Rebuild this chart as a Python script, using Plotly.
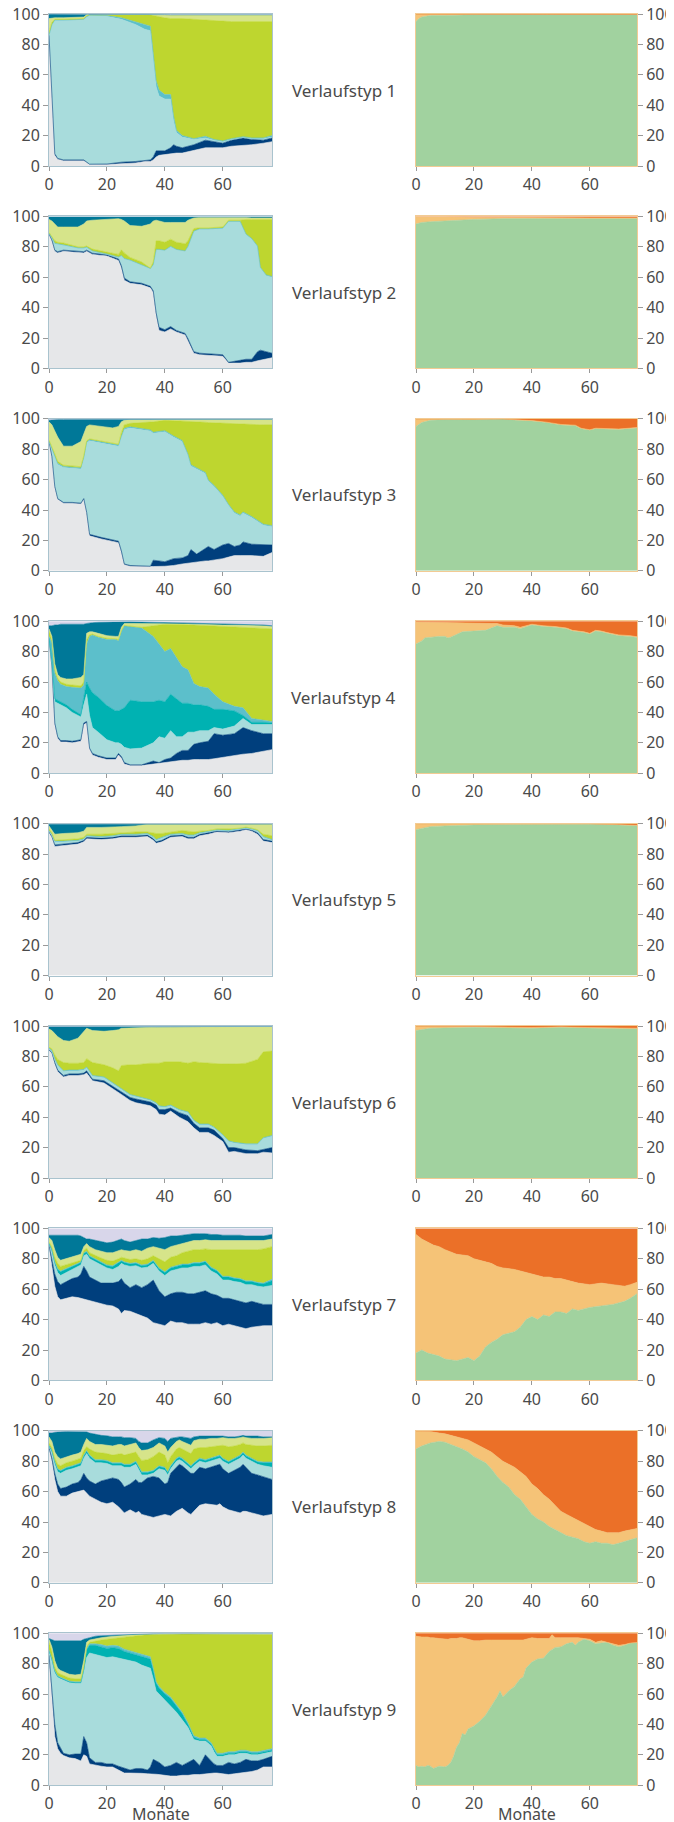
import plotly.graph_objects as go

# ---------------- categories / colours ----------------
KATEGORIEN = ["A", "B", "C", "D", "E", "F", "G", "H", "I"]
FARBEN_LINKS = ["#e6e7e9", "#003f7d", "#a8dcdc", "#00b2b2", "#5cbfcb",
                "#bed62f", "#d6e48a", "#007898", "#d8d6ea"]
KATEGORIEN_RECHTS = ["gruen", "hellorange", "orange"]
FARBEN_RECHTS = ["#a1d29f", "#f5c377", "#eb7028"]
TICKS_X = [0, 20, 40, 60]
TICKS_Y = [0, 20, 40, 60, 80, 100]
TITEL = ["Verlaufstyp %d" % i for i in range(1, 10)]
ACHSENTITEL = "Monate"

# ---------------- Verlaufstyp 1 (left) ----------------
T1_MONATE = [0,1,2,3,5,12,13,14,20,25,30,33,35,36,37,38,40,42,43,44,46,50,54,57,60,63,67,70,74,77]
T1_A = [85,50,7,4.5,3.5,3.5,2,1,1,1.5, 2,3,3,4,6,7,7.5,8,8,8.5, 8.5,10,12,12,12,13,13.5,14,15,16]
T1_B = [1,1,1,.5,.5,.5,.5,.2,.3,1, 1,.5,1,2,4,3,2.5,4,6,4.5, 3.5,4,5,4,3,4,5,3.5,2,2.5]
T1_C = [0,42,88,91,92,92.5,95.5,97.8,97.2,94, 90,86.5,85,64,42,36,34,32,16,9, 7,3.5,1.5,1,1,.5,.3,.5,1,.5]
T1_D = None
T1_E = [0,0,0,0,0,0,.3,.2,.5,1, 2,3,3,4,4,4,3,3,3,1.5, 1,.5,1,.5,.5,.5,.5,.5,.5,1]
T1_F = [2,1.5,.5,.5,.5,.5,.7,.4,.6,2.1, 4.6,6.6,7.5,25,42.5,48,50.5,50,64,73.5, 77,78.5,76.5,78,78.5,77,75.7,76.5,76.5,75]
T1_G = [9,3,1,1,1,1,.5,.4,.4,.4, .4,.4,.5,1,1.5,1.8,2.1,2.5,2.5,2.5, 2.5,3,3.5,4,4.5,4.5,4.5,4.5,4.5,4.5]
T1_H = [3,2.5,2.5,2.5,2.5,2,.5,0,0,0, 0,0,0,0,0,0,0,0,0,0, 0,0,0,0,0,0,0,0,0,0]
T1_I = [0,0,0,0,0,0,0,0,0,0, 0,0,0,0,0,.2,.4,.5,.5,.5, .5,.5,.5,.5,.5,.5,.5,.5,.5,.5]

# ---------------- Verlaufstyp 2 ----------------
T2_MONATE = [0,1,2,3,5,10,12,13,15,20,24,25,26,28,32,35,36,37,38,40,42,44,47,48,50,52,55,60,62,66,68,70,72,73,75,77]
T2_A = [88,84,77,76,77,76,76,77,75,74, 71,66,58,56,55,53,50,35,25,24, 26,24,22,18,10,9,8.5,8,3.5,3.5, 4,4,5,5.5,6,7]
T2_B = [.5,.5,.8,.8,.8,.8,.8,.8,.8,.8, 1,1.5,1.5,1,1,1,1,1.5,2,1.5, 1.5,1,1,1.5,1,1,1,1,.5,2, 2,2,6,6.5,5,3]
T2_C = [.5,1.5,4.2,4.7,3.2,2.2,2.2,1.7,1.2,.2, 1,6.5,12.5,14,12,11.5,17,41.5,51,52, 52.5,53,54,60.5,79,81.5,82,83,92.5,91, 82,79,69,54,50,50]
T2_D = None
T2_E = [0,.2,.3,.3,.3,.3,.3,.3,.3,.3, .3,.3,.3,.3,.3,.3,.3,.3,.3,.3, .3,.3,.3,.3,.3,.3,.3,.3,.3,.3, .5,.5,.5,.5,.5,.5]
T2_F = [.5,.8,1.7,1.2,1.2,.7,.7,.7,1.2,1.2, 1.7,3.7,3.7,1.7,1.7,.2,1.7,5.7,5.7,5.2, 4.7,4.7,4.7,3.7,1.7,.7,.7,.7,.7,.7, 9.5,12.5,17.5,31.5,36.5,37.5]
T2_G = [8.5,10,11,10,10.5,13,15,16.5,19,21.5, 23.5,20,21,21,23.5,29,27,13.5,13,13, 11,13,14,13.5,7,6.8,6.8,6.5,2,2, 1.3,1,1,1,1,1]
T2_H = [1.7,2.7,4.5,6.5,6.5,6.5,4.5,2.5,2,1.5, 1,1.5,2.5,5.5,6,4.5,2.5,2,2.5,3.5, 3.5,3.5,3.5,2,.8,.5,.5,.3,.3,.3, .5,.8,.8,.8,.8,.8]
T2_I = [.3,.3,.5,.5,.5,.5,.5,.5,.5,.5, .5,.5,.5,.5,.5,.5,.5,.5,.5,.5, .5,.5,.5,.5,.2,.2,.2,.2,.2,.2, .2,.2,.2,.2,.2,.2]

# ---------------- Verlaufstyp 3 ----------------
T3_MONATE = [0,1,2,3,5,8,11,12,13,14,18,22,24,25,26,28,35,36,40,43,46,48,49,51,54,55,57,60,62,64,66,67,70,74,77]
T3_A = [85,75,55,47,44.5,44.5,44,47,38,23, 21,19.5,18.5,12,4,3,2.5,2.8,3,3.5, 4.5,5,5.5,6,6.5,6.5,7,8,9,10, 10,10,10,9.5,12]
T3_B = [0,.3,.5,.5,.5,.5,.5,.5,.5,1, 1,1,1,1,.5,.5,.5,4.2,3,4.5, 4,5,8.5,5,8.5,9.5,7,9,9,6, 7,9,7.5,7.5,5]
T3_C = [0,4.7,19.5,22.5,23,22.5,22.5,26.5,45.5,61.5, 62,62,62.5,75,88.5,90.5,89,83.5,85.5,80, 76.5,66,55,56,49,43,41.5,32,25,22, 19,19,17.5,13,12]
T3_D = None
T3_E = [.5,.7,.7,.7,.7,.7,.7,.7,.7,.7, .7,.7,.7,.7,.7,.7,.7,.7,.7,.7, .7,.7,.7,.7,.7,.7,.7,.7,.7,.7, .7,.7,.7,.7,.7]
T3_F = [.5,1.5,1.3,1.3,.8,.8,.8,.8,.8,.6, .6,.8,.6,2.3,2.3,2.3,4.8,6.8,6.8,10.1, 12.8,21.5,28.4,30.3,33,37.8,41.1,47.3,53.1,57.9, 59.8,57.7,60.5,65.3,66.3]
T3_G = [12,14,15,16,12.5,13,16.5,14.5,9.5,9.2, 9.7,10,11.7,7,3,2.3,1.8,1.4,.5,.7, 1,1.3,1.4,1.5,1.8,2,2.2,2.5,2.7,2.9, 3,3.1,3.3,3.5,3.5]
T3_H = [1,3.3,7.5,11.5,17.5,17.5,14.5,9.5,4.5,3.5, 4.5,5.5,4.5,1.5,.5,.3,.3,.3,.2,.2, .2,.2,.2,.2,.2,.2,.2,.2,.2,.2, .2,.2,.2,.2,.2]
T3_I = [1,.7,.5,.5,.5,.5,.5,.5,.5,.5, .5,.5,.5,.5,.5,.4,.4,.3,.3,.3, .3,.3,.3,.3,.3,.3,.3,.3,.3,.3, .3,.3,.3,.3,.3]

# ---------------- Verlaufstyp 4 ----------------
T4_MONATE = [0,1,2,3,4,6,8,11,12,13,14,15,17,20,23,24,25,26,28,32,36,38,40,42,44,46,48,50,52,55,57,60,64,67,70,74,77]
T4_A = [88,70,32,23,20.5,20.5,20,21,32,33, 16,12,10.5,9,9,12,10,6,5,5, 6,6.5,7,7.5,8,8.5,8.5,9,9,9, 9.5,10.5,11.5,12.5,13,14.5,15.5]
T4_B = [0,.5,1,1,1,1,1,1,1,1, .5,1,1,1,1,1,1,1,.5,.5, 2,.5,2,2.5,5,6.5,6.5,10,11,12, 16.5,14.5,14.5,17.5,15,11.5,10.5]
T4_C = [0,1.5,14,22,23.5,21.5,19,15,12,18, 21.5,17,15.5,12,10,7,8,10,10.5,11, 12,17,14,18,11,9,12,8,8,7, 4,4,5,6,4,6,6]
T4_D = [1,2,2,2,2,2,2,1.5,5,8, 18,23,23,22.5,21,21,23,26,32,30.5, 27,24,24,24,25,22,19,18,17,16, 12,13,10,2,1.5,1.5,1]
T4_E = [1,12,17,13,11.5,12,14.5,17.5,8,25, 34,38,39.5,43.5,47,46,51,54,48.5,48.5, 43,37,33,30,27,24,22,14,12,12, 10,5,3,5,2.5,1.5,1]
T4_F = [4,1.5,2,1.5,1.5,1.5,1.5,1.5,2,3, 1,.5,.5,.8,.5,1,1,.2,.3,.5, 7,12.5,18,16,22,27.8,29.7,38.5,40.3,41, 44.8,49.5,52.3,53.2,60,60.5,61]
T4_G = [1,2.5,4,2.5,3,3.5,4,5.5,5,4, 2,1.5,2,1.7,1.5,2,2,1.3,1.7,2.5, 1.5,1,.5,.5,.5,.5,.5,.5,.7,.8, .9,1,1.2,1.3,1.3,1.5,1.5]
T4_H = [2,7,25.5,32.5,35,36,36,35,33,6.5, 6,6,7.3,9,9.5,9.5,3.7,1.2,1.2,1, .8,.7,.5,.5,.5,.5,.5,.5,.5,.5, .5,.5,.5,.5,.5,.5,.5]
T4_I = [3,3,2.5,2.5,2,2,2,2,2,1.5, 1,1,.7,.5,.5,.5,.3,.3,.3,.5, .7,.8,1,1,1,1.2,1.3,1.5,1.5,1.7, 1.8,2,2,2,2.2,2.5,3]

# ---------------- Verlaufstyp 5 ----------------
T5_MONATE = [0,1,2,5,10,12,13,18,22,25,30,34,36,37,39,42,46,48,50,52,55,58,62,66,68,70,72,74,77]
T5_A = [94,91,85,85.5,86.5,88,90,89.5,90,91, 91,91.5,89,87,88,91,91.5,90,90,92, 93,94.5,94,95,96,95,93,88.5,87.5]
T5_B = [.5,.5,1,1,1,1,1,1,1,1, 1,1,1,1,1,1,1,1,1,1, 1,.7,.7,.7,.5,.7,1,1,1]
T5_C = [.5,1,2,1.5,1,.5,.5,.5,.5,.5, .5,.5,1,1,1.5,.5,.5,1,1,.5, .5,.4,.5,.5,.5,.5,1,1.5,.5]
T5_D = None
T5_E = [.5,.5,.5,.5,.5,.5,.5,.5,.5,.5, .5,.5,.5,.5,.5,.5,.5,.5,.5,.5, .5,.4,.4,.4,.3,.4,.5,.5,.5]
T5_F = [1,1,.5,1,1,1,1,1.5,1.5,1, 1.5,1,2.5,4,2.5,1.5,2,2.5,2,1, .5,.5,.9,.4,.4,.4,.5,1.5,2.5]
T5_G = [2,2,4,4,4,4,4.5,4.5,4.5,4, 4,5,5.5,6,6,5.2,4.2,4.7,5.2,4.7, 4.2,3.2,3.2,2.7,2,2.6,3.5,6.5,7.5]
T5_H = [1,3.5,6.5,6,5.5,4.5,2.1,2.2,1.7,1.7, 1.2,.3,.3,.3,.3,.1,.1,.1,.1,.1, .1,.1,.1,.1,.1,.2,.3,.3,.3]
T5_I = [.5,.5,.5,.5,.5,.5,.4,.3,.3,.3, .3,.2,.2,.2,.2,.2,.2,.2,.2,.2, .2,.2,.2,.2,.2,.2,.2,.2,.2]

# ---------------- Verlaufstyp 6 ----------------
T6_MONATE = [0,1,2,3,5,7,10,12,13,15,19,22,24,25,28,30,35,37,38,40,42,45,48,50,52,55,57,60,62,64,68,72,74,77]
T6_A = [84,82,75,70,66.5,67.5,67.5,68,69,64, 62.5,59,56.5,55,51,49.5,47.5,45,42,41.5, 44,40,37,33,30,30,28,24,17,17.5, 16,16,17,16.5]
T6_B = [.5,.5,1,1,1,1,1,1,1.5,1, 1.5,1.5,1.5,2,2,2.5,2.5,3,3,3.5, 2,3,4,3,3,3,3.5,2,3,2.5, 2.5,2,2,3.5]
T6_C = [.5,1,2,3,2.5,2,2,2,2,2, 2,1.5,1.5,1,1.5,1.5,1,1,2,1.5, 1.5,1.5,2,1.5,2,2,1.5,2,4,3, 3.5,4,7,7.5]
T6_D = None
T6_E = [.5,.5,.5,.5,.5,.5,.5,.5,.5,.5, .5,.5,.5,.5,.5,.5,.5,.5,.5,.5, .5,.5,.5,.5,.5,.5,.5,.5,.5,.5, .5,.5,.5,.5]
T6_F = [.5,1,2.5,3.5,5.5,4.5,4.5,4.5,5.5,8.5, 8,10,10.5,15.5,19.5,20.5,24,26,28,29.5, 28.5,31.5,32,38.5,40.5,40,42,46.5,50.5,51.5, 53,55.5,56.5,55.5]
T6_G = [12,12,14,15,14.5,14.5,16.5,20,20,21, 22,24.5,27,24.5,24.3,24.5,23.6,23.7,23.7,22.8, 22.8,22.8,23.9,23,23.5,24,24,24.5,24.5,24.5, 24,21.5,16.5,16]
T6_H = [1.5,2.5,4.5,6.5,9,9.5,7.5,3.5,1,2.5, 3,2.5,2,1.1,.9,.7,.6,.5,.5,.4, .4,.4,.3,.2,.2,.2,.2,.2,.2,.2, .2,.2,.2,.2]
T6_I = [.5,.5,.5,.5,.5,.5,.5,.5,.5,.5, .5,.5,.5,.4,.3,.3,.3,.3,.3,.3, .3,.3,.3,.3,.3,.3,.3,.3,.3,.3, .3,.3,.3,.3]

# ---------------- Verlaufstyp 7 ----------------
T7_MONATE = [0,1,2,3,4,6,8,10,11,12,13,14,16,18,20,22,24,25,26,28,30,32,34,36,38,40,42,44,46,48,50,52,54,56,58,60,62,64,66,68,70,72,74,77]
T7_A = [88,75,62,55,53,54,55,54.5,54,53, 52.5,52,51,50,49.5,49,47,44,46,45.5, 44,43,41,38,37,36,39,38,38,37, 37,37,38,37,38,36,37,36,35,34, 35,35.5,36,36]
T7_B = [1,5,8,10,10,11,12,13.5,16,22, 19.5,16,15,14,14.5,15,18,23,18,15.5, 19,18,22,28,22,19,18,20,20,20, 20,21,21,20,18,18,17,17,17,17, 17,15.5,14,14]
T7_C = [.5,5,6,6,6,6,6,7,6,7, 11,12,12,12,10,9,10,10,12,14, 12.5,13,11.5,11,13,14,15,15,16,17, 18,17,17,15,14,12,12,12,12.5,12, 11,11,11.5,12.5]
T7_D = [.5,1,1.5,2,2.5,2,2,1.5,1.5,1.5, 1.5,1.5,1.5,1.5,1.5,2,2,1.5,1.5,1.5, 1.5,1.5,1.5,1.5,1.5,2,2,2,2,2, 2,2,2,2,2,2,2,2,2,2, 2,2,2,3]
T7_E = [.5,.5,.5,.5,.5,.5,.5,.5,.5,.5, .5,.5,.5,.5,.5,.5,.5,.5,.5,.5, .5,.5,.5,.5,.5,.5,.5,.5,.5,.5, .5,.5,.5,.5,.5,.5,.5,.5,.5,.5, .5,.5,.5,1]
T7_F = [.5,1.5,3,3.5,3,2.5,1.5,1,1,1.5, 2,2,2,2.5,3,3,2.5,2,2.5,2.5, 2.5,3,3.5,3,6,6.5,6.5,6.5,7.5,8.5, 8.5,8.5,8,11.5,13.5,17.5,17.5,18.5,19,20.5, 20.5,21.5,22.5,21.5]
T7_G = [3,4,5,4,4,4,4,4,4,2.5, 3,4,4,4.5,5,5.5,5,5,5,5.5, 6,6,7,6,7,8,7,7,6,6, 6,6,6,6,6,6,6,6,6,6, 6,6,5.5,5]
T7_H = [1.5,3.5,9.5,14.5,16.5,15.5,14.5,13.5,12,6, 3,5,6,6,6.5,7,7,7,6.5,6, 6,8,6,6,6.5,8,7,6,5.5,5, 4.5,4.5,4,4,4,3.5,3.5,3.5,3.5,3, 3,3,3,3]
T7_I = [4.5,4.5,4.5,4.5,4.5,4.5,4.5,4.5,5,6, 7,7,8,9,9.5,9,8,7,8,9, 8,7,7,6,6.5,6,5,5,4.5,4, 3.5,3.5,3.5,4,4,4.5,4.5,4.5,4.5,5, 5,5,5,4]

# ---------------- Verlaufstyp 8 ----------------
T8_MONATE = [0,1,2,3,4,6,8,10,11,12,13,14,16,18,20,22,24,25,26,28,30,31,32,34,36,38,40,41,42,44,45,46,48,49,50,52,54,56,58,59,60,62,64,66,67,68,70,72,74,77]
T8_A = [88,80,68,60,57,57,59,60,60.5,61, 59,57,55,53,52,53,50,48,46,48, 46,47,45,44,43,44,45,44.5,44,47, 48,49,46,45,47,51,52,51.5,51,52, 50,48,47,46,47,47,46,45,44,45]
T8_B = [1,2,4,5,5,6,6,6,7.5,11, 10,10,10,14,16,16,18,18,17,17, 22,19,21,25,27,25,20,21.5,28,29, 30,28,28,27,25,25,23,24.5,26,26, 25,24,27,30,31,29,26,26,26,23]
T8_C = [.5,4,6,8,10,11,10,10,9,10, 16,15,14,12,10.5,8,9,11,13,11, 10,8,5,2,2,6,9,5,3,4, 3,3,3,3,5,4,4,4,4,4, 5,6,6,6,6,6,8,7,7,8]
T8_D = [.5,1,1.5,1.5,1.5,1.5,1.5,1.5,1.5,1.5, 1.5,1.5,1.5,1.5,1.5,1.5,1.5,1.5,1.5,1.5, 1.5,1.5,1.5,1.5,1.5,1.5,1.5,1.5,1.5,1.5, 1.5,1.5,1.5,1.5,1.5,1.5,1.5,1.5,1.5,1.5, 1.5,1.5,1.5,1.5,1.5,1.5,1.5,1.5,2,3]
T8_E = [.5,.5,.5,.5,.5,.5,.5,.5,.5,.5, .5,.5,.5,.5,.5,.5,.5,.5,.5,.5, .5,.5,.5,.5,.5,.5,.5,.5,.5,.5, .5,.5,.5,.5,.5,.5,.5,.5,.5,.5, .5,.5,.5,.5,.5,.5,.5,.5,.5,.5]
T8_F = [1.5,1.5,2,3,3,3,3,3,3,3, 2.5,4,5,4.5,4.5,5,6,6,6,7, 6,7,7.5,8,9,9,8,6,6,6, 6,6,7,8,9,7,8,7.5,7,6.5, 8.5,9.5,8,7,6,7,8.5,10,10.5,11]
T8_G = [4,4,4,5,4.5,4,4,4,4,4, 5.5,5,5,5.5,5.5,6,6,6,6,6, 6,6,6.5,6.5,6,6,6,7,6,5, 5,5,5,5.5,5.5,5.5,5.5,5.5,5,5, 5,5.5,5,4.5,4,4.5,4.5,5,5,5]
T8_H = [2.5,5.5,13,16,17.8,16.5,15.5,14.5,13.5,8.5, 4.3,5.5,6.5,6,6.2,6,5,5,5.5,4.5, 3,4,5,4.5,5,3.5,5,7,6,3, 2,3,4.5,4.5,2.5,2,2,1.5,1.5,1, 1,1,1,1,1,1,1.5,1.5,1,.5]
T8_I = [1.5,1.5,1,1,.7,.5,.5,.5,.5,.5, .7,1.5,2.5,3,3.3,4,4,4,4.5,4.5, 5,7,8,8,6,4.5,5,7,5,4, 4,4,4.5,5,4,3.5,3.5,3.5,3.5,3.5, 3.5,4,4,3.5,3,3.5,3.5,3.5,4,4]

# ---------------- Verlaufstyp 9 ----------------
T9_MONATE = [0,1,2,3,4,5,7,9,11,12,13,14,16,18,20,22,24,26,28,30,32,34,35,36,37,38,40,42,44,46,48,50,52,54,56,57,58,60,62,64,66,68,70,72,74,77]
T9_A = [85,55,32,24,21,19.5,18,17.5,16,20, 19,14,13,12.5,12,12,10,8,8,8, 7.8,7.5,7.5,7.5,7.2,7,6.5,6,6,6.5, 6.5,7,7,7.5,8,8,8,7.5,7,7.5, 8,8.5,9,10,12,12]
T9_B = [.5,10,8,4,3,1.5,2,3,4.5,12, 9,4,2,2.5,2,2,2.5,3,2,3, 3.2,2.5,4.5,9.5,8.8,8,5.5,7,9,6.5, 8.5,10,6,12.5,8,6,5,5.5,8,6.5, 7,8.5,7,6,5,7]
T9_C = [2.5,17,34,43,46,48,47.5,46.5,46.5,43, 56,69,71,70,70,70.5,71,72,72,70, 68,68,65,53,46,45,44,39,33,30, 23,13,16,9,10,8,6,6,5,6, 6,4,4,4,4,3]
T9_D = [.5,1,1,.5,.5,.5,.5,.5,.5,1, 5,5,6,6,6,6,6.5,5,5,5, 6,6,6,6,5,4,4,5,4,4, 2,1.5,1,1,1,1,1,1,1,1, 1,1,1,1,1,1]
T9_E = [.5,.5,.5,.5,.5,.5,.5,.5,.5,.5, 1,1,1,1.5,1.5,1.5,1.5,1.5,1.5,1.5, 1.5,1.5,1.5,1,1,1,1,1,1,1, 1,1,1,1,1,1,1,1,1,1, 1,1,1,1,1,1]
T9_F = [5,4.5,2.5,2,2,2,2,2,2,1.5, 1,1,2,3,4.5,4.5,5.5,8,9.5,11, 12.2,13.5,14.5,22,31,34,38,41.2,46.3,51.4, 58.5,67,68.5,68.5,71.5,75.5,78.5,78.5,77.5,77.5, 76.4,76.3,77.2,77,76,75]
T9_G = [2,3,4,3,2.5,2.5,2.5,2.5,3,4, 3,1.5,1.5,1.5,1.5,1.5,1.3,1.1,1,.7, .6,.4,.5,.5,.5,.5,.6,.5,.4,.3, .2,.2,.2,.2,.2,.2,.2,.2,.2,.2, .3,.3,.4,.5,.5,.5]
T9_H = [.5,4.5,13,18,19.5,20.5,22,22.5,22,14, 2.5,1.5,1.5,1.3,1,.7,.7,.6,.4,.3, .3,.3,.2,.2,.2,.2,.2,.1,.1,.1, .1,.1,.1,.1,.1,.1,.1,.1,.1,.1, .1,.2,.2,.3,.2,.2]
T9_I = [3.5,4.5,5,5,5,5,5,5,5,4, 3.5,3,2,1.7,1.5,1.3,1,.8,.6,.5, .4,.3,.3,.3,.3,.3,.2,.2,.2,.2, .2,.2,.2,.2,.2,.2,.2,.2,.2,.2, .2,.2,.2,.2,.3,.3]

# ---------------- right charts ----------------
R1_MONATE = [0,1,2,5,10,20,36,40,44,50,60,70,77]
R1_GRUEN = [95,97,98,99,99,99.5,99.5,99.5,99.5,99.7,99.5,99.5,99.5]
R1_HELLORANGE = [5,3,2,1,1,.5,.2,.2,.3,.3,.3,.2,.2]
R1_ORANGE = [0,0,0,0,0,0,.3,.3,.2,0,.2,.3,.3]

R2_MONATE = [0,2,5,10,20,30,40,50,60,70,77]
R2_GRUEN = [95,96,96.5,97,98,98.5,98.5,98.5,98.5,98.5,98.5]
R2_HELLORANGE = [5,4,3.5,3,1.5,.8,.5,.5,.5,.5,.5]
R2_ORANGE = [0,0,0,0,.5,.7,1,1,1,1,1]

R3_MONATE = [0,2,5,10,20,25,30,35,40,45,50,55,57,60,62,70,75,77]
R3_GRUEN = [95,97.5,99,99.3,99.2,99.5,99.8,99,98.5,97.5,96,95.5,93.5,92.5,93.5,93,93.5,94]
R3_HELLORANGE = [5,2.5,1,.7,.6,.3,.1,.3,.3,.3,.3,.3,.3,.3,.3,.3,.3,.3]
R3_ORANGE = [0,0,0,0,.2,.2,.1,.7,1.2,2.2,3.7,4.2,6.2,7.2,6.2,6.7,6.2,5.7]

R4_MONATE = [0,2,3,5,8,10,11,12,14,16,20,24,26,28,30,34,36,38,40,44,48,52,54,58,60,62,64,66,70,74,77]
R4_GRUEN = [85,87,89,89.5,90,90,89,89.5,91.5,93,93.5,94,95.5,97,96,96,95,96.5,97.5,96.5,96,95,93.5,92.5,91.5,93.5,93,92,90.5,90,89]
R4_HELLORANGE = [14.5,12.4,10.3,9.8,9.2,9,9.9,9.3,7.2,5.7,5,4.5,3,1.5,1.5,1,1,.5,.5,.5,.5,.5,.5,.5,.5,.5,.5,.5,.5,.5,.5]
R4_ORANGE = [.5,.6,.7,.7,.8,1,1.1,1.2,1.3,1.3,1.5,1.5,1.5,1.5,2.5,3,4,3,2,3,3.5,4.5,6,7,8,6,6.5,7.5,9,9.5,10.5]

R5_MONATE = [0,5,10,20,40,60,70,77]
R5_GRUEN = [96,98,98.5,99,99.3,99.5,99,98.5]
R5_HELLORANGE = [4,2,1.5,.8,.5,.3,.3,.3]
R5_ORANGE = [0,0,0,.2,.2,.2,.7,1.2]

R6_MONATE = [0,5,20,40,50,60,77]
R6_GRUEN = [97,98.5,99,98.5,99,98.5,98]
R6_HELLORANGE = [3,1.5,.7,.5,.5,.5,.5]
R6_ORANGE = [0,0,.3,1,.5,1,1.5]

R7_MONATE = [0,2,4,6,8,10,14,18,20,22,24,26,28,30,34,36,38,40,42,44,46,48,50,52,54,56,60,64,68,72,74,77]
R7_GRUEN = [18,20,18,17,16,14,13,15,13,16,22,25,27,30,32,35,40,42,40,43,42,45,45,44,47,46,48,49,50,52,54,58]
R7_HELLORANGE = [78,73,73,72,72,72,70,67,67,63,56,52,48,44,41,37,31,28,29.5,25,26,22,22,22,18,18,15,15,13,10,9,7]
R7_ORANGE = [4,7,9,11,12,14,17,18,20,21,22,23,25,26,27,28,29,30,30.5,32,32,33,33,34,35,36,37,36,37,38,37,35]

R8_MONATE = [0,2,5,8,10,12,14,16,18,20,24,26,28,30,32,34,36,38,40,42,44,46,48,50,52,54,56,58,60,62,64,66,68,70,72,74,77]
R8_GRUEN = [88,90,92,93,92.5,91,90,88,86,83,79,75,70,66,63,58,55,50,45,42,40,37,35,33,31,30,29,27,26,27,26,26,25,26,27,28,30]
R8_HELLORANGE = [12,9.8,7.5,5.5,5.5,6,6,7,8,9,9,11,13,14,15,18,18,20,20,20,18,18,16,14,14,13,12,12,11,8,8,7,8,7,7,7,6]
R8_ORANGE = [0,.2,.5,1.5,2,3,4,5,6,8,12,14,17,20,22,24,27,30,35,38,42,45,49,53,55,57,59,61,63,65,66,67,67,67,66,65,64]

R9_MONATE = [0,1,2,3,4,5,6,8,10,11,12,13,14,15,16,17,18,20,22,24,26,28,29,30,32,34,36,37,38,40,42,44,46,47,48,50,52,54,55,56,58,60,62,64,66,68,70,72,74,77]
R9_GRUEN = [13,12,12.5,12,13,12.5,11,12.5,12,13,15,19,25,28,34,33,37,39,42,46,52,58,62,58,62,65,70,71,77,81,83,83.5,88,89.5,90.5,91,93,94,92,94,96,95,93,93.5,94,92,91,92,93.5,94]
R9_HELLORANGE = [85,85.5,85,85.5,84.5,84.5,86,84,84,83,81.5,77.5,71.5,69,63,63.5,59,56,53,49.5,43.5,37.5,33.5,37.5,33.5,30.5,25.5,24.5,19,16,13.5,13,8.5,9.5,6.5,6,4,3,5,3,.5,1,1,1.5,0,1,1,.5,0,0]
R9_ORANGE = [2,2.5,2.5,2.5,2.5,3,3,3.5,4,4,3.5,3.5,3.5,3,3,3.5,4,5,5,4.5,4.5,4.5,4.5,4.5,4.5,4.5,4.5,4.5,4,3,3.5,3.5,3.5,1,3,3,3,3,3,3,3.5,4,6,5,6,7,8,7.5,6.5,6]

# ---------------- build figure ----------------
# page pixels; the html body adds an 8 px margin in front of the figure
OFF = 8
W, H = 674 - OFF, 1822 - OFF
LEFT_X = (49 - OFF, 272 - OFF)
RIGHT_X = (416 - OFF, 637 - OFF)
ROW_TOP0, ROW_STEP, ROW_H = 14 - OFF, 202.4, 152
LABEL_X = 344 - OFF
FONT = "'Noto Sans', 'Open Sans', sans-serif"
TXT = "#4a4a4a"

g = globals()
fig = go.Figure()
problems = []

for r in range(9):
    n = r + 1
    months = g["T%d_MONATE" % n]
    ax_l = 2 * r + 1
    ax_r = 2 * r + 2
    xl = "x" if ax_l == 1 else "x%d" % ax_l
    yl = "y" if ax_l == 1 else "y%d" % ax_l
    xr, yr = "x%d" % ax_r, "y%d" % ax_r
    first = True
    for k, kat in enumerate(KATEGORIEN):
        vals = g.get("T%d_%s" % (n, kat))
        if vals is None:
            continue
        if len(vals) != len(months):
            problems.append("T%d_%s len %d vs %d" % (n, kat, len(vals), len(months)))
        kw = dict(groupnorm="percent") if first else {}
        first = False
        fig.add_trace(go.Scatter(
            x=months, y=vals, xaxis=xl, yaxis=yl, mode="lines",
            stackgroup="L%d" % n, line=dict(width=0.6, color=FARBEN_LINKS[k]),
            fillcolor=FARBEN_LINKS[k], showlegend=False, hoverinfo="skip", **kw))
    rmonths = g["R%d_MONATE" % n]
    for k, kat in enumerate(["GRUEN", "HELLORANGE", "ORANGE"]):
        vals = g["R%d_%s" % (n, kat)]
        if len(vals) != len(rmonths):
            problems.append("R%d_%s len %d vs %d" % (n, kat, len(vals), len(rmonths)))
        kw = dict(groupnorm="percent") if k == 0 else {}
        fig.add_trace(go.Scatter(
            x=rmonths, y=vals, xaxis=xr, yaxis=yr, mode="lines",
            stackgroup="R%d" % n, line=dict(width=0.6, color=FARBEN_RECHTS[k]),
            fillcolor=FARBEN_RECHTS[k], showlegend=False, hoverinfo="skip", **kw))

    top = ROW_TOP0 + r * ROW_STEP
    bot = top + ROW_H
    ydom = [1 - bot / H, 1 - top / H]
    common_x = dict(range=[0, 77], tickvals=TICKS_X, ticks="outside", ticklen=4,
                    tickcolor="#999999", showgrid=False, zeroline=False, showline=True,
                    mirror=True, automargin=False, ticklabeloverflow="allow",
                    tickfont=dict(family=FONT, size=16, color=TXT), fixedrange=True)
    common_y = dict(range=[0, 100], tickvals=TICKS_Y, ticks="outside", ticklen=5,
                    tickcolor="#999999", showgrid=False, zeroline=False, showline=True,
                    mirror=True, automargin=False, ticklabeloverflow="allow",
                    tickfont=dict(family=FONT, size=16, color=TXT), fixedrange=True)
    xa_l = dict(common_x, domain=[LEFT_X[0] / W, LEFT_X[1] / W], anchor=yl,
                linecolor="#a9c3ce")
    xa_r = dict(common_x, domain=[RIGHT_X[0] / W, RIGHT_X[1] / W], anchor=yr,
                linecolor="#f2cb94", range=[0, 76.3])
    ya_l = dict(common_y, domain=ydom, anchor=xl, side="left", linecolor="#a9c3ce")
    ya_r = dict(common_y, domain=ydom, anchor=xr, side="right", linecolor="#f2cb94")
    fig.layout["xaxis" if ax_l == 1 else "xaxis%d" % ax_l] = xa_l
    fig.layout["yaxis" if ax_l == 1 else "yaxis%d" % ax_l] = ya_l
    fig.layout["xaxis%d" % ax_r] = xa_r
    fig.layout["yaxis%d" % ax_r] = ya_r

    fig.add_annotation(text=TITEL[r], xref="paper", yref="paper",
                       x=LABEL_X / W, y=1 - (top + ROW_H / 2) / H, showarrow=False,
                       xanchor="center", yanchor="middle",
                       font=dict(family=FONT, size=17, color=TXT))

    if r == 8:
        for xs in (LEFT_X, RIGHT_X):
            fig.add_annotation(text=ACHSENTITEL, xref="paper", yref="paper",
                               x=(xs[0] + xs[1]) / 2 / W, y=1 - (bot + 29) / H,
                               showarrow=False, xanchor="center", yanchor="middle",
                               font=dict(family=FONT, size=16, color=TXT))

fig.update_layout(width=W, height=H, margin=dict(l=0, r=0, t=0, b=0),
                  paper_bgcolor="white", plot_bgcolor="white", showlegend=False)

fig.write_html("out.html")
if problems:
    raise SystemExit("; ".join(problems))
